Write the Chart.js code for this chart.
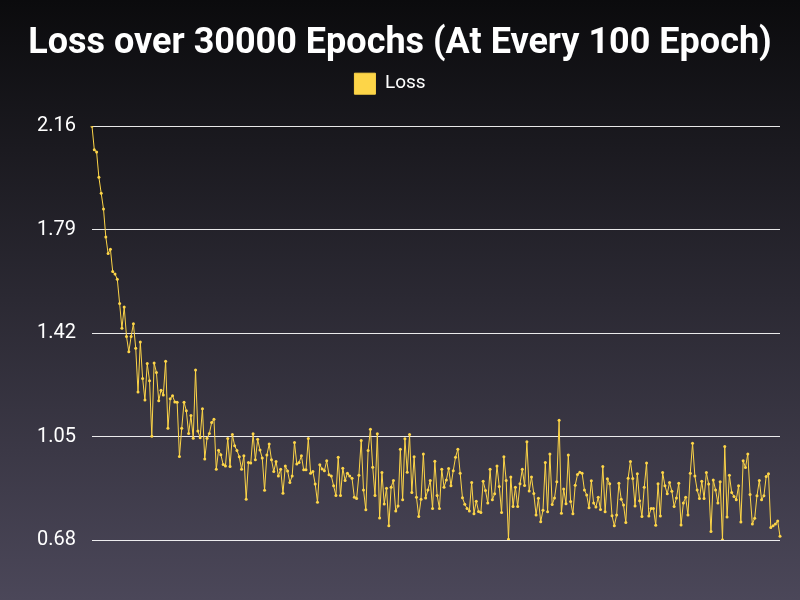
<!DOCTYPE html>
<html>
<head>
<meta charset="utf-8">
<script src="https://cdn.jsdelivr.net/npm/chart.js@4.4.1/dist/chart.umd.min.js"></script>
<style>
    html, body { margin: 0; padding: 0; }
    body {
        width: 800px;
        height: 600px;
        background: linear-gradient(to bottom, #0b0b0d 0%, #4b4759 100%);
    }
    #wrap { width: 800px; height: 600px; }
</style>
</head>
<body>
<div id="wrap"><canvas id="lossChart" width="800" height="600"></canvas></div>
<script>
const lossValues = [
    2.16, 2.076, 2.068, 1.977, 1.92, 1.864, 1.764, 1.705, 1.72, 1.64,
    1.631, 1.613, 1.526, 1.437, 1.513, 1.408, 1.353, 1.408, 1.453, 1.366,
    1.209, 1.388, 1.258, 1.181, 1.311, 1.25, 1.051, 1.313, 1.279, 1.178,
    1.216, 1.199, 1.319, 1.08, 1.185, 1.196, 1.174, 1.173, 0.979, 1.08,
    1.173, 1.142, 1.061, 1.125, 1.044, 1.288, 1.07, 1.046, 1.149, 0.97,
    1.044, 1.061, 1.10, 1.112, 0.933, 1.001, 0.985, 0.95, 0.945, 1.043,
    0.943, 1.057, 1.017, 1.0, 0.978, 0.933, 0.981, 0.826, 0.957, 0.955,
    1.06, 0.967, 1.04, 1.002, 0.973, 0.858, 0.984, 1.023, 0.967, 0.925,
    0.961, 0.909, 0.933, 0.847, 0.945, 0.927, 0.886, 0.909, 1.029, 0.952,
    0.957, 0.981, 0.931, 0.931, 1.043, 0.919, 0.925, 0.88, 0.815, 0.949,
    0.934, 0.928, 0.963, 0.913, 0.909, 0.874, 0.839, 0.976, 0.839, 0.937,
    0.893, 0.919, 0.909, 0.901, 0.833, 0.828, 0.912, 1.036, 0.859, 0.788,
    1.0, 1.076, 0.94, 0.839, 1.06, 0.759, 0.921, 0.809, 0.865, 0.731,
    0.869, 0.893, 0.784, 0.802, 1.005, 0.824, 1.042, 0.922, 1.057, 0.85,
    0.978, 0.833, 0.764, 0.826, 0.988, 0.83, 0.859, 0.893, 0.793, 0.962,
    0.839, 0.793, 0.933, 0.869, 0.895, 0.936, 0.874, 0.928, 0.976, 1.005,
    0.919, 0.831, 0.808, 0.793, 0.784, 0.886, 0.774, 0.819, 0.782, 0.778,
    0.89, 0.857, 0.812, 0.933, 0.824, 0.845, 0.945, 0.871, 0.778, 0.978,
    0.893, 0.683, 0.905, 0.80, 0.869, 0.8, 0.881, 0.933, 0.875, 1.031,
    0.855, 0.905, 0.846, 0.769, 0.829, 0.745, 0.786, 0.957, 0.781, 0.988,
    0.807, 0.83, 0.888, 1.108, 0.776, 0.862, 0.81, 0.984, 0.818, 0.774,
    0.876, 0.914, 0.922, 0.919, 0.859, 0.841, 0.795, 0.892, 0.812, 0.798,
    0.833, 0.789, 0.943, 0.781, 0.899, 0.881, 0.767, 0.731, 0.769, 0.883,
    0.826, 0.805, 0.743, 0.901, 0.961, 0.9, 0.802, 0.917, 0.82, 0.764,
    0.869, 0.955, 0.766, 0.793, 0.793, 0.733, 0.881, 0.766, 0.921, 0.874,
    0.845, 0.886, 0.854, 0.8, 0.83, 0.883, 0.734, 0.812, 0.833, 0.769,
    0.919, 1.026, 0.909, 0.859, 0.828, 0.89, 0.828, 0.921, 0.88, 0.71,
    0.895, 0.859, 0.812, 0.888, 0.681, 1.014, 0.762, 0.912, 0.85, 0.836,
    0.824, 0.874, 0.744, 0.963, 0.939, 0.988, 0.843, 0.737, 0.758, 0.838,
    0.893, 0.824, 0.838, 0.907, 0.917, 0.725, 0.731, 0.737, 0.748, 0.693
];
const epochs = lossValues.map((v, i) => (i + 1) * 100);
const yTicks = [0.68, 1.05, 1.42, 1.79, 2.16];

const lineColor = "#fdd548";

// push the plot area down below the legend, nudge the legend item a bit left
const legendSpacer = {
    id: "legendSpacer",
    beforeInit(chart) {
        const origFit = chart.legend.fit;
        chart.legend.fit = function () {
            origFit.bind(chart.legend)();
            this.height += 22;
            if (this.lineWidths && this.lineWidths.length) {
                this.lineWidths[0] += 20;
            }
        };
    }
};

let ctx = document.getElementById("lossChart").getContext("2d");
let chart = new Chart(ctx, {
    type: "line",
    data: {
        labels: epochs,
        datasets: [{
            label: "Loss",
            data: lossValues,
            borderColor: lineColor,
            backgroundColor: lineColor,
            borderWidth: 1,
            pointRadius: 1.5,
            pointBorderWidth: 0,
            pointBackgroundColor: lineColor,
            tension: 0,
            fill: false
        }]
    },
    options: {
        responsive: false,
        animation: false,
        layout: {
            padding: { left: 20, right: 20, top: 22, bottom: 60 }
        },
        scales: {
            x: { display: false },
            y: {
                min: yTicks[0],
                max: yTicks[yTicks.length - 1],
                afterBuildTicks: (axis) => {
                    axis.ticks = yTicks.map(v => ({ value: v }));
                },
                afterFit: (axis) => {
                    axis.width = 72;
                },
                border: { display: false },
                grid: {
                    color: "rgba(255,255,255,0.9)",
                    lineWidth: 1,
                    drawTicks: false
                },
                ticks: {
                    color: "#ffffff",
                    padding: 16,
                    font: { family: "Roboto", size: 20 },
                    callback: (v) => Number(v).toFixed(2)
                }
            }
        },
        plugins: {
            title: {
                display: true,
                text: "Loss over 30000 Epochs (At Every 100 Epoch)",
                color: "#ffffff",
                font: { family: "Roboto", size: 36, weight: "bold" },
                padding: { top: 0, bottom: 2 }
            },
            legend: {
                labels: {
                    color: "#ffffff",
                    boxWidth: 21,
                    boxHeight: 21,
                    padding: 6,
                    font: { family: "Roboto", size: 19 }
                }
            },
            tooltip: { enabled: false }
        }
    },
    plugins: [legendSpacer]
});
</script>
</body>
</html>
